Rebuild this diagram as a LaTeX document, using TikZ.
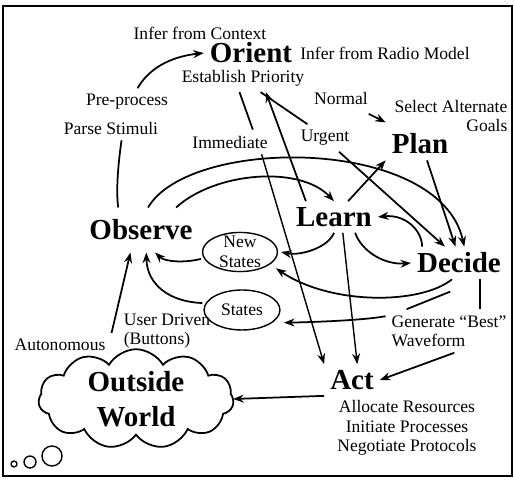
\documentclass[tikz,border=0pt]{standalone}
\usepackage{fontspec}
\setmainfont{Liberation Serif}
\usetikzlibrary{arrows.meta, shapes.geometric, shapes.symbols}
\tikzset{
    flow/.style={-{Stealth[length=6pt,width=4.5pt]}, line width=1pt},
    bareL/.style={line width=1pt},
    lbl/.style={inner sep=1pt, outer sep=2.5pt, font=\fontsize{10}{11}\selectfont},
    big/.style={inner sep=1pt, outer sep=2.5pt, font=\fontsize{16.5}{20}\selectfont\bfseries},
    stateE/.style={draw, ellipse, line width=0.8pt, outer sep=2pt, font=\fontsize{10}{11.5}\selectfont}
}

\begin{document}
\begin{tikzpicture}[x=0.02cm, y=-0.02cm]
    \useasboundingbox (0,0) rectangle (514,482);
    \draw[line width=0.8pt] (3,6) rectangle (512,476);
    % main stages
    \node[big] (ori) at (251,53) {Orient};
    \node[big] (pln) at (420,144) {Plan};
    \node[big] (lrn) at (334,217) {Learn};
    \node[big, outer sep=6pt] (obs) at (141,230) {Observe};
    \node[big] (dec) at (459,263) {Decide};
    \node[big] (act) at (352,380) {Act};
    \node[cloud, draw, line width=1pt, cloud puffs=11, cloud puff arc=120, cloud ignores aspect,
          big, inner xsep=11pt, inner ysep=-1.5pt, outer sep=0pt, align=center] (wld) at (136,399) {Outside\\World};
    % labels
    \node[lbl] (ifc) at (200,33) {Infer from Context};
    \node[lbl] (irm) at (385,53) {Infer from Radio Model};
    \node[lbl] (est) at (243,78) {Establish Priority};
    \node[lbl] (pre) at (127,102) {Pre-process};
    \node[lbl] (prs) at (111,128) {Parse Stimuli};
    \node[lbl] (imm) at (230,142) {Immediate};
    \node[lbl] (nrm) at (341,98) {Normal};
    \node[lbl, align=right] (sag) at (451,116) {Select Alternate\\Goals};
    \node[lbl] (urg) at (325,138) {Urgent};
    \node[lbl] (aut) at (60,345) {Autonomous};
    \node[lbl, align=left] (usr) at (167,331) {User Driven\\(Buttons)};
    \node[lbl, align=left] (gen) at (449,331) {Generate ``Best''\\Waveform};
    \node[lbl, align=center] (alc) at (407,428) {Allocate Resources\\Initiate Processes\\Negotiate Protocols};
    \node[stateE, inner xsep=0pt, inner ysep=-1.2pt, minimum width=1.5cm, align=center] (nst) at (240,252) {New\\States};
    \node[stateE, minimum width=1.4cm, minimum height=0.8cm] (sts) at (242,310) {States};
    % observe -> orient
    \draw[bareL] ([xshift=-13pt]obs.north) .. controls (116,190) and (118,165) .. ([xshift=6pt]prs.south);
    \draw[flow] ([xshift=6pt]pre.north) .. controls (148,70) and (168,57) .. (ori.west);
    % orient -> act / decide
    \draw[bareL] ([xshift=-2pt]est.south) -- ([xshift=13pt]imm.north);
    \draw[flow, line width=0.8pt] ([xshift=18pt]imm.south) -- (act.north west);
    \draw[bareL] ([xshift=10pt]est.south) -- ([xshift=-10pt]urg.north);
    \draw[flow] ([xshift=8pt]urg.south) -- ([xshift=-8pt]dec.north);
    \draw[flow] ([xshift=-3pt,yshift=-2pt]nrm.south east) -- ([yshift=3pt]pln.north west);
    % learn
    \draw[flow] ([xshift=-16pt]lrn.north) -- ([xshift=13pt]est.south);
    \draw[flow] ([xshift=8pt]lrn.north) -- (pln.south west);
    \draw[flow] ([xshift=4pt]pln.south) -- ([xshift=-2pt]dec.north);
    \draw[flow] ([xshift=4pt]obs.north) .. controls (190,136) and (440,136) .. ([xshift=3pt]dec.north);
    \draw[flow] ([xshift=20pt]obs.north) .. controls (215,172) and (300,165) .. (lrn.north);
    \draw[flow] ([xshift=-21pt]dec.north) .. controls (422,230) and (405,214) .. (lrn.east);
    \draw[flow] ([xshift=12pt]lrn.south) .. controls (362,252) and (385,265) .. (dec.west);
    \draw[flow] (lrn.south) .. controls (328,248) and (300,256) .. (nst.east);
    \draw[flow, line width=0.8pt] ([xshift=5pt]lrn.south) -- ([xshift=3pt]act.north);
    % back to observe
    \draw[flow] (nst.190) .. controls (185,263) and (165,262) .. ([xshift=8pt]obs.south);
    \draw[flow] (sts.170) .. controls (170,302) and (147,285) .. ([xshift=3pt]obs.south);
    \draw[flow] (aut.north east) -- ([xshift=-6pt]obs.south);
    % decide
    \draw[flow] ([xshift=-4pt]dec.south) .. controls (420,305) and (330,305) .. ([xshift=4pt]nst.south east);
    \draw[bareL] ([xshift=-5pt,yshift=-7pt]dec.south) -- ([xshift=12pt]gen.north west);
    \draw[flow] ([yshift=-4pt]gen.north west) .. controls (365,320) and (320,322) .. ([xshift=4pt]sts.-20);
    \draw[bareL] ([xshift=12pt]dec.south) -- ([xshift=12pt]dec.south |- gen.north);
    \draw[flow] ([xshift=3pt]gen.south) -- (act.east);
    \draw[flow] (act.south west) -- (wld.east);
    % thought bubbles
    \draw[line width=0.8pt] (14,464) circle[radius=1.7pt];
    \draw[line width=0.8pt] (30,462) circle[radius=3.4pt];
    \draw[line width=0.8pt] (52,456) circle[radius=5.7pt];
\end{tikzpicture}
\end{document}
